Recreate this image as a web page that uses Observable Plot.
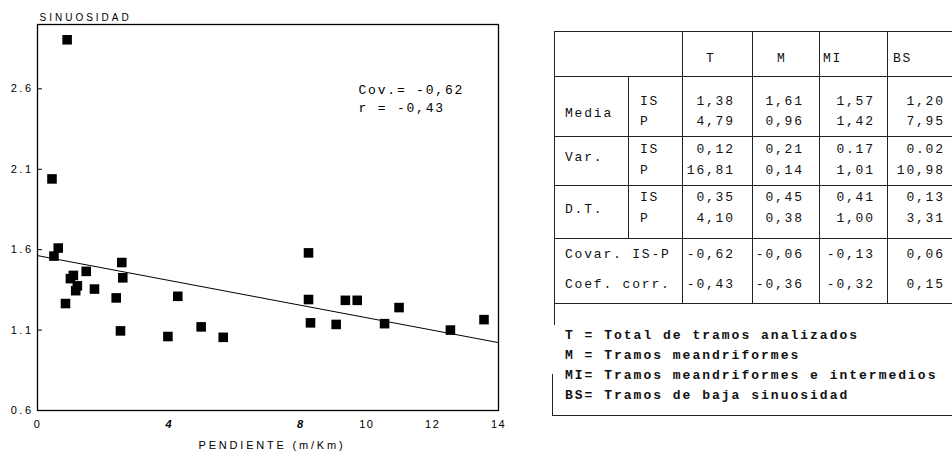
<!DOCTYPE html>
<html><head><meta charset="utf-8">
<script src="https://cdn.jsdelivr.net/npm/d3@7"></script>
<script src="https://cdn.jsdelivr.net/npm/@observablehq/plot@0.6"></script>
<style>
html,body{margin:0;padding:0;background:#fff;overflow:hidden;width:952px;height:459px}
#wrap{position:relative;width:952px;height:459px;overflow:hidden}
#chart{position:absolute;left:0;top:0}
.mono{font-family:"Liberation Mono","DejaVu Sans Mono",monospace;font-size:13px;letter-spacing:1.8px;color:#111;position:absolute;line-height:16px;height:16px;white-space:pre}
.leg{font-weight:bold;letter-spacing:2px}
.hl{position:absolute;background:#222;height:1.3px}
.vl{position:absolute;background:#222;width:1.3px}
</style></head><body><div id="wrap"><div id="chart"></div><div id="table"></div></div>
<script>
// ---- chart data ----
const pendiente = [0.90, 0.44, 0.63, 0.50, 2.56, 1.09, 1.48, 1.00, 2.59, 1.21, 1.16, 1.73, 2.39, 0.85, 2.52,
  4.26, 3.96, 4.97, 5.64, 8.23, 8.23, 8.29, 9.35, 9.71, 9.07, 10.54, 10.98, 12.54, 13.56];
const sinuosidad = [2.905, 2.04, 1.61, 1.56, 1.52, 1.44, 1.465, 1.42, 1.425, 1.375, 1.345, 1.355, 1.30, 1.265, 1.095,
  1.31, 1.06, 1.12, 1.055, 1.58, 1.29, 1.145, 1.285, 1.285, 1.135, 1.14, 1.24, 1.10, 1.165];
const fitPendiente = [0, 14];
const fitSinuosidad = [1.563, 1.022];
const xTicks = [0, 4, 8, 10, 12, 14];
const xTicksEmphasis = [4, 8];
const yTicks = [0.6, 1.1, 1.6, 2.1, 2.6];
const xLabel = "PENDIENTE (m/Km)";
const yLabel = "SINUOSIDAD";
const statsText = ["Cov.= -0,62", "r = -0,43"];

// ---- table data ----
const columns = ["T", "M", "MI", "BS"];
const blockLabels = ["Media", "Var.", "D.T."];
const subLabels = ["IS", "P"];
const mediaIS = ["1,38", "1,61", "1,57", "1,20"];
const mediaP = ["4,79", "0,96", "1,42", "7,95"];
const varIS = ["0,12", "0,21", "0.17", "0.02"];
const varP = ["16,81", "0,14", "1,01", "10,98"];
const dtIS = ["0,35", "0,45", "0,41", "0,13"];
const dtP = ["4,10", "0,38", "1,00", "3,31"];
const covarLabel = "Covar. IS-P";
const covarValues = ["-0,62", "-0,06", "-0,13", "0,06"];
const coefLabel = "Coef. corr.";
const coefValues = ["-0,43", "-0,36", "-0,32", "0,15"];
const legendLines = ["T = Total de tramos analizados", "M = Tramos meandriformes",
  "MI= Tramos meandriformes e intermedios", "BS= Tramos de baja sinuosidad"];

const mono = "'Liberation Mono','DejaVu Sans Mono',monospace";
const points = pendiente.map((x, i) => ({x, y: sinuosidad[i]}));
const fit = fitPendiente.map((x, i) => ({x, y: fitSinuosidad[i]}));

const plot = Plot.plot({
  width: 530, height: 459,
  marginLeft: 37, marginRight: 32, marginTop: 24, marginBottom: 49,
  x: {domain: [0, 14]},
  y: {domain: [0.6, 3.0]},
  style: {fontFamily: "'Liberation Sans', Arial, sans-serif", fontSize: "11px", color: "#000", background: "#fff"},
  marks: [
    Plot.frame({stroke: "#000", strokeWidth: 1.3}),
    Plot.axisY({ticks: yTicks, tickFormat: d => d.toFixed(1), tickSize: -5, tickPadding: 9, label: null, fontSize: 11}),
    Plot.axisX({ticks: xTicks, tickFormat: d => String(d), tickSize: 0, tickPadding: 10, label: null, fontSize: 11}),
    Plot.line(fit, {x: "x", y: "y", stroke: "#000", strokeWidth: 1}),
    Plot.dot(points, {x: "x", y: "y", symbol: "square", r: 5.4, fill: "#000", stroke: null}),
    Plot.text([yLabel], {text: d => d, frameAnchor: "top-left", textAnchor: "start", dx: 2, dy: -11, fontSize: 10}),
    Plot.text([xLabel], {text: d => d, frameAnchor: "bottom", dx: 4, dy: 38, fontSize: 11}),
    Plot.text([statsText.join("\n")], {text: d => d, frameAnchor: "top-left", textAnchor: "start", dx: 321, dy: 57, lineHeight: 1.38, fontFamily: mono, fontSize: 13})
  ]
});
document.getElementById("chart").appendChild(plot);
const svg = d3.select(plot);
svg.selectAll('g[aria-label="y-axis tick label"] text').style("letter-spacing", "2.5px");
svg.selectAll('g[aria-label="x-axis tick label"] text').style("letter-spacing", "1.5px")
  .filter(function() { return xTicksEmphasis.includes(+this.textContent); })
  .attr("font-weight", "bold").attr("font-style", "italic");
const textGroups = svg.selectAll('g[aria-label="text"]').nodes();
d3.select(textGroups[0]).selectAll("text").style("letter-spacing", "3px");
d3.select(textGroups[1]).selectAll("text").style("letter-spacing", "2.8px");
d3.select(textGroups[2]).selectAll("text").style("letter-spacing", "1.8px");

// ---- table ----
const T = document.getElementById("table");
function addText(s, left, cy, cls) {
  const d = document.createElement("div");
  d.className = "mono" + (cls ? " " + cls : "");
  d.textContent = s; d.style.left = left + "px"; d.style.top = (cy - 8) + "px";
  T.appendChild(d);
}
function addRight(s, right, cy) {
  const d = document.createElement("div");
  d.className = "mono"; d.textContent = s;
  d.style.left = (right + 1.8 - 120) + "px"; d.style.width = "120px"; d.style.textAlign = "right";
  d.style.top = (cy - 8) + "px";
  T.appendChild(d);
}
function hline(y, x1, x2) { const d = document.createElement("div"); d.className = "hl"; d.style.top = y + "px"; d.style.left = x1 + "px"; d.style.width = (x2 - x1) + "px"; T.appendChild(d); }
function vline(x, y1, y2) { const d = document.createElement("div"); d.className = "vl"; d.style.left = x + "px"; d.style.top = y1 + "px"; d.style.height = (y2 - y1) + "px"; T.appendChild(d); }

const headerLeft = [706, 777, 823, 893];
columns.forEach((c, i) => addText(c, headerLeft[i], 59));
const colRight = [733, 802, 873, 943];
const rows = [[mediaIS, 101.5], [mediaP, 122], [varIS, 150], [varP, 171], [dtIS, 198], [dtP, 219], [covarValues, 255], [coefValues, 285]];
rows.forEach(([vals, cy], r) => {
  vals.forEach((v, i) => addRight(v, colRight[i], cy));
  if (r < 6) addText(subLabels[r % 2], 640, cy);
});
const blockCy = [114, 158, 210];
blockLabels.forEach((b, i) => addText(b, 565, blockCy[i]));
addText(covarLabel, 565, 255);
addText(coefLabel, 565, 285);
const legendCy = [336, 356, 376, 396];
legendLines.forEach((l, i) => addText(l, 565, legendCy[i], "leg"));

[31, 76, 136, 185, 238, 303].forEach(y => hline(y, 554, 960));
hline(415, 552, 952);
vline(554, 31, 325);
vline(628, 76, 238);
[682, 752, 819, 887].forEach(x => vline(x, 31, 303));
vline(552, 374, 416);
</script></body></html>
